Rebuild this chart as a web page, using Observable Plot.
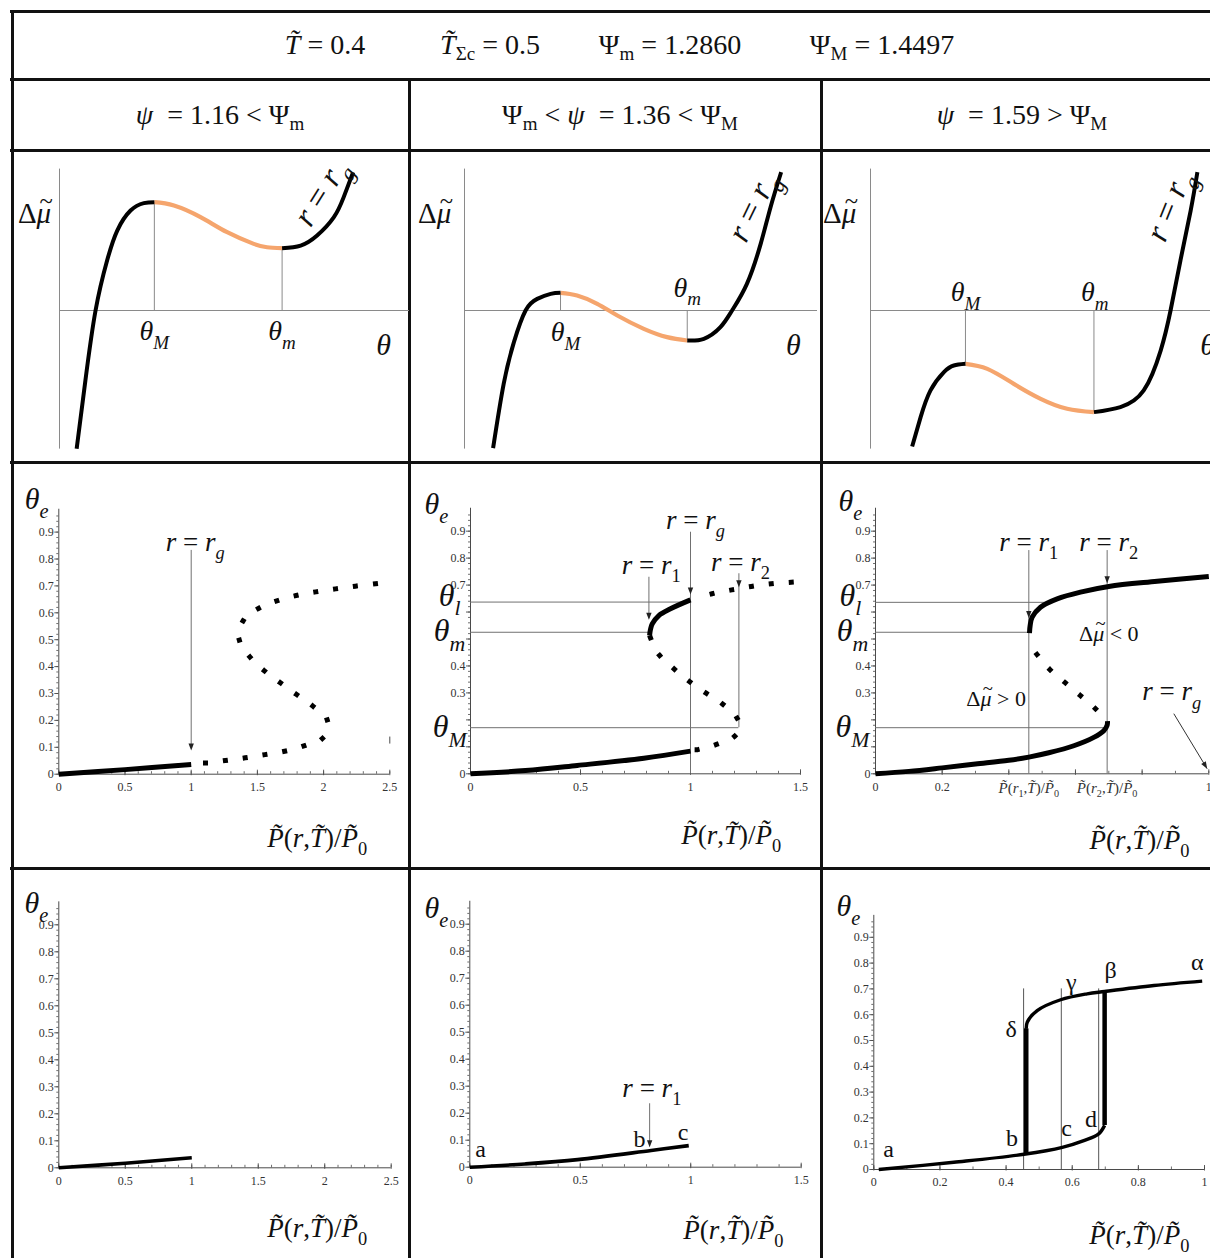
<!DOCTYPE html>
<html lang="en">
<head>
<meta charset="utf-8">
<title>Equilibrium coverage regimes</title>
<script src="https://cdn.jsdelivr.net/npm/d3@7"></script>
<script src="https://cdn.jsdelivr.net/npm/@observablehq/plot@0.6"></script>
<style>
  html, body { margin: 0; background: #fff; }
  #fig { position: relative; width: 1210px; height: 1258px; overflow: hidden; background: #fff;
         font-family: "Liberation Serif", "DejaVu Serif", serif; color: #111; }
  .rule { position: absolute; background: #111; }
  .hd { position: absolute; font-size: 28px; line-height: 28px; white-space: nowrap; transform: translateX(-50%); }
  .hd sub { font-size: 0.68em; vertical-align: -0.3em; line-height: 0; }
  #fig svg { position: absolute; overflow: visible; }
</style>
</head>
<body>
<div id="fig"></div>
<script>
// ---------------- parameters shown in the header ----------------
const Tred = 0.4, TsigmaC = 0.5, PsiMin = "1.2860", PsiMax = "1.4497";
const psiValues = ["1.16", "1.36", "1.59"];

// ---------------- row 1: Δμ̃(θ) sketches (θ in axis units 0–1, Δμ̃ scaled to ±1) ----------------
const mu116Rise = [[0.049,-0.988],[0.074,-0.5],[0.103,0],[0.136,0.357],[0.165,0.571],[0.203,0.714],[0.241,0.767],[0.271,0.774]];
const mu116Mid  = [[0.271,0.774],[0.327,0.75],[0.403,0.667],[0.479,0.559],[0.555,0.476],[0.593,0.452],[0.636,0.445]];
const mu116End  = [[0.636,0.445],[0.689,0.464],[0.736,0.536],[0.784,0.667],[0.812,0.81],[0.839,0.988]];

const mu136Rise = [[0.081,-0.983],[0.111,-0.524],[0.140,-0.226],[0.173,0],[0.206,0.083],[0.244,0.119],[0.272,0.126]];
const mu136Mid  = [[0.272,0.126],[0.319,0.107],[0.376,0.048],[0.433,-0.036],[0.508,-0.131],[0.574,-0.19],[0.631,-0.214]];
const mu136End  = [[0.631,-0.214],[0.678,-0.202],[0.725,-0.119],[0.758,0],[0.800,0.19],[0.839,0.476],[0.867,0.738],[0.897,0.988]];

const mu159Rise = [[0.118,-0.971],[0.142,-0.762],[0.170,-0.571],[0.208,-0.44],[0.236,-0.393],[0.269,-0.381]];
const mu159Mid  = [[0.269,-0.381],[0.331,-0.417],[0.406,-0.524],[0.482,-0.631],[0.557,-0.702],[0.633,-0.726]];
const mu159End  = [[0.633,-0.726],[0.708,-0.69],[0.774,-0.571],[0.822,-0.286],[0.850,0],[0.878,0.357],[0.907,0.714],[0.926,0.988]];

// ---------------- row 2: θe versus P̃/P̃0 ----------------
const iso116Solid = [[0,0],[0.5,0.017],[1,0.036]];
const iso116Dots  = [[1.108,0.042],[1.259,0.051],[1.41,0.061],[1.561,0.073],[1.712,0.086],[1.856,0.106],[1.997,0.136],
                     [2.027,0.202],[1.914,0.255],[1.788,0.299],[1.667,0.342],[1.544,0.388],[1.435,0.441],[1.36,0.507],
                     [1.4,0.576],[1.526,0.621],[1.669,0.648],[1.818,0.667],[1.969,0.68],[2.12,0.691],[2.271,0.701],[2.424,0.71]];

const iso136Lower      = [[0,0],[0.25,0.012],[0.485,0.031],[0.788,0.058],[1,0.084]];
const iso136LowerDots  = [[1.03,0.089],[1.118,0.109],[1.205,0.142],[1.222,0.172],[1.212,0.206],[1.144,0.26],[1.064,0.303],
                          [0.989,0.346],[0.92,0.393],[0.852,0.447],[0.814,0.513]];
const iso136Upper      = [[0.814,0.513],[0.818,0.535],[0.826,0.556],[0.856,0.587],[0.909,0.612],[1,0.645]];
const iso136UpperDots  = [[1.098,0.668],[1.186,0.682],[1.277,0.695],[1.371,0.705],[1.465,0.711]];
const iso136Marks = {thetaL: 0.637, thetaLow: 0.525, thetaHigh: 0.171, pR1: 0.814, pRg: 1, pR2: 1.22};

const iso159Lower = [[0,0],[0.1,0.009],[0.2,0.022],[0.3,0.036],[0.4,0.05],[0.46,0.062],[0.52,0.078],[0.595,0.104],
                     [0.655,0.135],[0.685,0.16],[0.695,0.18],[0.696,0.195]];
const iso159Dots  = [[0.66,0.241],[0.615,0.29],[0.57,0.337],[0.523,0.387],[0.483,0.445]];
const iso159Upper = [[0.462,0.522],[0.464,0.55],[0.47,0.581],[0.495,0.618],[0.545,0.649],[0.615,0.674],[0.70,0.695],
                     [0.845,0.714],[1.0,0.732]];
const iso159Marks = {thetaL: 0.636, thetaLCross: 0.515, thetaLow: 0.525, thetaHigh: 0.171, pR1: 0.46, pR2: 0.695};

// ---------------- row 3: path followed as the pressure is raised / lowered ----------------
const path116 = [[0,0],[0.5,0.017],[1,0.037]];
const path136 = [[0,0],[0.25,0.012],[0.488,0.028],[0.821,0.062],[0.991,0.08]];
const path159Lower = [[0.015,0],[0.242,0.028],[0.454,0.059],[0.57,0.086],[0.635,0.112],[0.68,0.138],[0.698,0.171]];
const path159Upper = [[0.461,0.545],[0.464,0.571],[0.494,0.616],[0.565,0.658],[0.645,0.681],[0.698,0.69],[0.847,0.713],[0.993,0.73]];
const path159Jumps = [{x: 0.461, from: 0.059, to: 0.545}, {x: 0.698, from: 0.171, to: 0.687}];
const path159Cuts  = [0.453, 0.567, 0.68];

// ---------------- axis ticks ----------------
const thetaTicks = [0, 0.1, 0.2, 0.3, 0.4, 0.5, 0.6, 0.7, 0.8, 0.9];
const thetaTicksShown = [0, 0.3, 0.4, 0.7, 0.8, 0.9];
const pTicks25 = [0, 0.5, 1, 1.5, 2, 2.5];
const pTicks15 = [0, 0.5, 1, 1.5];
const pTicks10 = [0, 0.2, 0.4, 0.6, 0.8, 1];

// ---------------- layout ----------------
const fig = document.getElementById("fig");
const SERIF = "'Liberation Serif', 'DejaVu Serif', serif";
const AX = "#4a4a4a", GUIDE = "#707070", ORANGE = "#f5a56d";
const COLS = [[14, 394], [411, 409], [823, 387]];
const ROWS = [[152, 309], [464, 403], [870, 388]];

// table frame
[[10, 10, 1200, 3], [11, 10, 3, 1248], [10, 78, 1200, 3], [10, 149, 1200, 3], [10, 461, 1200, 3], [10, 867, 1200, 3],
 [408, 78, 3, 1180], [820, 78, 3, 1180]].forEach(([l, t, w, h]) => {
  const d = document.createElement("div");
  d.className = "rule";
  Object.assign(d.style, {left: l + "px", top: t + "px", width: w + "px", height: h + "px"});
  fig.appendChild(d);
});

// header texts
const heads = [
  {cx: 325, cy: 45, html: `<i>T\u0303</i> = ${Tred}`},
  {cx: 490, cy: 45, html: `<i>T\u0303</i><sub>Σc</sub> = ${TsigmaC}`},
  {cx: 670, cy: 45, html: `Ψ<sub>m</sub> = ${PsiMin}`},
  {cx: 882, cy: 45, html: `Ψ<sub>M</sub> = ${PsiMax}`},
  {cx: 220, cy: 115, html: `<i>ψ</i>&nbsp; = ${psiValues[0]} &lt; Ψ<sub>m</sub>`},
  {cx: 620, cy: 115, html: `Ψ<sub>m</sub> &lt; <i>ψ</i>&nbsp; = ${psiValues[1]} &lt; Ψ<sub>M</sub>`},
  {cx: 1022, cy: 115, html: `<i>ψ</i>&nbsp; = ${psiValues[2]} &gt; Ψ<sub>M</sub>`}
];
heads.forEach(h => {
  const d = document.createElement("div");
  d.className = "hd";
  d.innerHTML = h.html;
  d.style.left = h.cx + "px";
  d.style.top = (h.cy - 14) + "px";
  fig.appendChild(d);
});

// ---------------- helpers ----------------
// "$" text: latin and lowercase greek letters in italic, _{..} subscript, ^{..} superscript, ~{..} tilde above
function parseRich(s) {
  const out = []; let buf = "", i = 0;
  while (i < s.length) {
    if ((s[i] === "_" || s[i] === "^" || s[i] === "~") && s[i + 1] === "{") {
      if (buf) { out.push({t: buf, lv: 0}); buf = ""; }
      const j = s.indexOf("}", i);
      out.push({t: s.slice(i + 2, j), lv: s[i] === "_" ? -1 : s[i] === "^" ? 1 : 0, tilde: s[i] === "~"});
      i = j + 1;
    } else buf += s[i++];
  }
  if (buf) out.push({t: buf, lv: 0});
  return out;
}
function styleRuns(s) {
  const out = [];
  for (const ch of s) {
    const comb = /[\u0300-\u036f]/.test(ch);
    const it = comb ? (out.length ? out[out.length - 1].it : false) : /[A-Za-zα-ω]/.test(ch);
    if (out.length && out[out.length - 1].it === it) out[out.length - 1].t += ch;
    else out.push({t: ch, it});
  }
  return out;
}
const SVGNS = "http://www.w3.org/2000/svg";
function richify(svg) {
  svg.querySelectorAll("text").forEach(t => {
    const s = t.textContent;
    if (!s.startsWith("$")) return;
    const fs = parseFloat(getComputedStyle(t).fontSize);
    t.textContent = "";
    let shift = 0, pendingDx = 0;
    const add = (txt, {it = false, size = null, target = shift} = {}) => {
      const ts = document.createElementNS(SVGNS, "tspan");
      ts.textContent = txt;
      ts.setAttribute("font-style", it ? "italic" : "normal");
      if (size) ts.setAttribute("font-size", size.toFixed(1));
      if (target !== shift) ts.setAttribute("dy", (target - shift).toFixed(2));
      if (pendingDx) ts.setAttribute("dx", pendingDx.toFixed(2));
      shift = target; pendingDx = 0;
      t.appendChild(ts);
      return ts;
    };
    for (const seg of parseRich(s.slice(1))) {
      const target = seg.lv === -1 ? 0.3 * fs : seg.lv === 1 ? -0.4 * fs : 0;
      const size = seg.lv ? 0.68 * fs : null;
      if (seg.tilde) {
        // base glyph, then a tilde pulled back over it; the next run steps forward again
        const base = add(seg.t, {it: /[A-Za-zα-ω]/.test(seg.t), target});
        const w = base.getComputedTextLength();
        const tl = add("~", {size: 0.85 * fs, target: target - 0.5 * fs});
        const wt = tl.getComputedTextLength();
        const slant = 0.08 * fs;
        tl.setAttribute("dx", (-(w + wt) / 2 + slant).toFixed(2));
        pendingDx = (w - wt) / 2 - slant;
        continue;
      }
      for (const run of styleRuns(seg.t)) add(run.t, {it: run.it, size, target});
    }
  });
}
// filled arrow head whose tip sits on the data point; angle turns it clockwise from "pointing down"
function head(angle = 0, len = 7, half = 2.7) {
  const a = angle * Math.PI / 180, c = Math.cos(a), s = Math.sin(a);
  const p = (x, y) => [x * c - y * s, x * s + y * c];
  return {draw(ctx) {
    const [x1, y1] = p(-half, -len), [x2, y2] = p(half, -len);
    ctx.moveTo(0, 0); ctx.lineTo(x1, y1); ctx.lineTo(x2, y2); ctx.closePath();
  }};
}
const X = d => d[0], Y = d => d[1];
const solid = (data, w = 4.6, stroke = "#000", curve = "catmull-rom") =>
  Plot.line(data, {x: X, y: Y, curve, stroke, strokeWidth: w, strokeLinecap: "butt"});
const dotted = (data) =>
  Plot.line(data, {x: X, y: Y, curve: "catmull-rom", stroke: "#000", strokeWidth: 5,
                   strokeLinecap: "square", strokeDasharray: "0.01,19.99"});
const label = (x, y, text, o = {}) =>
  Plot.text([{x, y, text}], {x: "x", y: "y", text: "text", fontSize: 27, fill: "#111", ...o});
const heads2 = (pts, angle = 0) =>
  Plot.dot(pts, {x: X, y: Y, symbol: head(angle), r: 3, fill: "#222", stroke: "none"});

function panel(c, r, {x, y, marks}) {
  const [left, width] = COLS[c], [top, height] = ROWS[r];
  const svg = Plot.plot({
    width, height, margin: 0,
    x: {domain: x.domain, range: x.range.map(v => v - left), axis: null},
    y: {domain: y.domain, range: y.range.map(v => v - top), axis: null},
    style: {fontFamily: SERIF, background: "none", overflow: "visible"},
    marks
  });
  svg.style.left = left + "px";
  svg.style.top = top + "px";
  fig.appendChild(svg);
  richify(svg);
}

// Maple-style axes for the θe panels
function mapleAxes(x, y, {xMax, xMajor, xLabels = xMajor, yLabels = thetaTicks, extraX = []}) {
  const ux = (x.domain[1] - x.domain[0]) / (x.range[1] - x.range[0]);
  const uy = (y.domain[1] - y.domain[0]) / (y.range[0] - y.range[1]);
  const fmt = d3.format("~g");
  const xMinor = d3.range(0, xMax + 1e-9, 0.1);
  const yMinor = d3.range(0, 0.98, 0.02);
  return [
    Plot.ruleY(yMinor, {x1: -2 * ux, x2: 0, stroke: AX, strokeWidth: 0.8}),
    Plot.ruleY(thetaTicks, {x1: -4 * ux, x2: 0, stroke: AX, strokeWidth: 0.9}),
    Plot.ruleX(xMinor, {y1: 0, y2: 2.5 * uy, stroke: AX, strokeWidth: 0.8}),
    Plot.ruleX(xMajor, {y1: -1.5 * uy, y2: 4 * uy, stroke: AX, strokeWidth: 0.9}),
    Plot.ruleX([0], {y1: 0, y2: 0.985, stroke: AX}),
    Plot.ruleY([0], {x1: 0, x2: xMax, stroke: AX}),
    Plot.text(yLabels, {x: 0, y: d => d, text: fmt, textAnchor: "end", dx: -5, fontSize: 12, fill: "#333"}),
    Plot.text(xLabels, {x: d => d, y: 0, text: fmt, dy: 13, fontSize: 12, fill: "#333"}),
    ...extraX
  ];
}
const pLabel = (x, y) => label(x, y, "$P\u0303(r,T\u0303)/P\u0303_{0}", {fontSize: 27});

// ---------------- row 1 ----------------
function muPanel(c, xr, rise, mid, end, lab) {
  const peak = rise[rise.length - 1], dip = mid[mid.length - 1];
  panel(c, 0, {
    x: {domain: [0, 1], range: xr},
    y: {domain: [-1, 1], range: [450, 170]},
    marks: [
      Plot.ruleY([0], {x1: 0, x2: 1, stroke: "#8a8a8a"}),
      Plot.ruleX([0], {y1: -0.99, y2: 1.01, stroke: "#8a8a8a"}),
      Plot.ruleX([peak, dip], {x: X, y1: 0, y2: Y, stroke: "#8a8a8a"}),
      solid(mid, 4.2, ORANGE, "natural"),
      solid(rise, 4, "#000", "natural"),
      solid(end, 4, "#000", "natural"),
      label(lab.dmu[0], lab.dmu[1], "$Δ~{μ}", {fontSize: 29}),
      label(lab.tM[0], lab.tM[1], "$θ_{M}", {fontSize: 28}),
      label(lab.tm[0], lab.tm[1], "$θ_{m}", {fontSize: 28}),
      label(lab.t[0], lab.t[1], "$θ", {fontSize: 30}),
      label(lab.rg[0], lab.rg[1], "$r = r_{g}", {fontSize: 33, rotate: lab.rg[2]})
    ]
  });
}
muPanel(0, [59, 409], mu116Rise, mu116Mid, mu116End,
  {dmu: [-0.069, 0.69], tM: [0.271, -0.15], tm: [0.636, -0.15], t: [0.926, -0.25], rg: [0.746, 0.843, -58]});
muPanel(1, [464, 817], mu136Rise, mu136Mid, mu136End,
  {dmu: [-0.082, 0.69], tM: [0.286, -0.157], tm: [0.631, 0.164], t: [0.932, -0.25], rg: [0.815, 0.74, -64]});
muPanel(2, [870, 1223], mu159Rise, mu159Mid, mu159End,
  {dmu: [-0.085, 0.69], tM: [0.269, 0.131], tm: [0.635, 0.131], t: [0.955, -0.25], rg: [0.845, 0.745, -68]});

// ---------------- row 2 ----------------
{
  const x = {domain: [0, 2.5], range: [58.3, 389.3]}, y = {domain: [0, 1], range: [773.7, 504.7]};
  panel(0, 1, {x, y, marks: [
    ...mapleAxes(x, y, {xMax: 2.5, xMajor: pTicks25}),
    Plot.ruleX([2.5], {y1: 0.112, y2: 0.138, stroke: AX}),
    Plot.ruleX([1], {y1: 0.095, y2: 0.832, stroke: GUIDE}),
    heads2([[1, 0.088]]),
    solid(iso116Solid, 5),
    dotted(iso116Dots),
    label(-0.168, 1.02, "$θ_{e}", {fontSize: 30}),
    label(1.03, 0.862, "$r = r_{g}"),
    pLabel(1.952, -0.239)
  ]});
}
{
  const m = iso136Marks;
  const x = {domain: [0, 1.5], range: [470, 800]}, y = {domain: [0, 1], range: [773.3, 503.7]};
  panel(1, 1, {x, y, marks: [
    ...mapleAxes(x, y, {xMax: 1.5, xMajor: pTicks15, yLabels: thetaTicksShown}),
    Plot.ruleY([{y: m.thetaL, x2: m.pRg}, {y: m.thetaLow, x2: m.pR1}, {y: m.thetaHigh, x2: m.pR2}],
               {y: "y", x1: 0, x2: "x2", stroke: GUIDE}),
    Plot.ruleX([{x: m.pRg, y1: 0, y2: 0.896}, {x: m.pR2, y1: m.thetaHigh, y2: 0.742}, {x: m.pR1 - 0.003, y1: 0.575, y2: 0.729}],
               {x: "x", y1: "y1", y2: "y2", stroke: GUIDE}),
    heads2([[m.pRg, 0.665], [m.pR2, 0.692], [m.pR1 - 0.003, 0.571]]),
    solid(iso136Lower, 5),
    solid(iso136Upper, 5),
    dotted(iso136LowerDots),
    dotted(iso136UpperDots),
    label(-0.155, 1.0, "$θ_{e}", {fontSize: 30}),
    label(-0.095, 0.661, "$θ_{l}", {fontSize: 32}),
    label(-0.095, 0.529, "$θ_{m}", {fontSize: 32}),
    label(-0.095, 0.173, "$θ_{M}", {fontSize: 32}),
    label(1.023, 0.941, "$r = r_{g}"),
    label(0.821, 0.774, "$r = r_{1}"),
    label(1.227, 0.786, "$r = r_{2}"),
    pLabel(1.185, -0.228)
  ]});
}
{
  const m = iso159Marks;
  const x = {domain: [0, 1], range: [875, 1208.3]}, y = {domain: [0, 1], range: [773.3, 503.7]};
  const pr = (k) => `$P\u0303(r_{${k}},T\u0303)/P\u0303_{0}`;
  panel(2, 1, {x, y, marks: [
    ...mapleAxes(x, y, {xMax: 1, xMajor: pTicks10, xLabels: [0, 0.2, 1], yLabels: thetaTicksShown, extraX: [
      Plot.text([{x: m.pR1, t: pr(1)}, {x: m.pR2, t: pr(2)}], {x: "x", y: 0, text: "t", dy: 14, fontSize: 15, fill: "#333"})
    ]}),
    Plot.ruleY([{y: m.thetaL, x2: m.thetaLCross}, {y: m.thetaLow, x2: m.pR1}, {y: m.thetaHigh, x2: m.pR2}],
               {y: "y", x1: 0, x2: "x2", stroke: GUIDE}),
    Plot.ruleX([m.pR1, m.pR2], {y1: 0, y2: 0.828, stroke: GUIDE}),
    heads2([[m.pR1, 0.578], [m.pR2, 0.707]]),
    Plot.link([{x1: 0.895, y1: 0.223, x2: 0.995, y2: 0.019}], {x1: "x1", y1: "y1", x2: "x2", y2: "y2", stroke: "#333"}),
    heads2([[0.995, 0.019]], -31),
    solid(iso159Lower, 5),
    solid(iso159Upper, 5),
    dotted(iso159Dots),
    label(-0.075, 1.011, "$θ_{e}", {fontSize: 30}),
    label(-0.075, 0.661, "$θ_{l}", {fontSize: 32}),
    label(-0.069, 0.529, "$θ_{m}", {fontSize: 32}),
    label(-0.069, 0.173, "$θ_{M}", {fontSize: 32}),
    label(0.46, 0.86, "$r = r_{1}"),
    label(0.70, 0.86, "$r = r_{2}"),
    label(0.70, 0.52, "$Δ~{μ} < 0", {fontSize: 22}),
    label(0.362, 0.279, "$Δ~{μ} > 0", {fontSize: 22}),
    label(0.80, 0.304, "$r = r_{g}", {textAnchor: "start"}),
    pLabel(0.792, -0.246)
  ]});
}

// ---------------- row 3 ----------------
{
  const x = {domain: [0, 2.5], range: [58.3, 390.7]}, y = {domain: [0, 1], range: [1167.3, 897.3]};
  panel(0, 2, {x, y, marks: [
    ...mapleAxes(x, y, {xMax: 2.5, xMajor: pTicks25}),
    solid(path116, 3.6),
    label(-0.168, 0.978, "$θ_{e}", {fontSize: 30}),
    pLabel(1.943, -0.225)
  ]});
}
{
  const x = {domain: [0, 1.5], range: [469.3, 800.7]}, y = {domain: [0, 1], range: [1166.7, 896.7]};
  panel(1, 2, {x, y, marks: [
    ...mapleAxes(x, y, {xMax: 1.5, xMajor: pTicks15}),
    Plot.ruleX([0.814], {y1: 0.08, y2: 0.235, stroke: GUIDE}),
    heads2([[0.814, 0.074]]),
    solid(path136, 3.6),
    label(-0.151, 0.957, "$θ_{e}", {fontSize: 30}),
    label(0.049, 0.068, "a", {fontSize: 24}),
    label(0.768, 0.105, "b", {fontSize: 24}),
    label(0.965, 0.13, "c", {fontSize: 24}),
    label(0.824, 0.291, "$r = r_{1}"),
    pLabel(1.193, -0.233)
  ]});
}
{
  const x = {domain: [0, 1], range: [873.3, 1204]}, y = {domain: [0, 1], range: [1169, 911]};
  panel(2, 2, {x, y, marks: [
    ...mapleAxes(x, y, {xMax: 1, xMajor: pTicks10}),
    Plot.ruleX(path159Cuts, {y1: 0, y2: 0.70, stroke: "#555", strokeWidth: 1}),
    Plot.ruleX(path159Jumps, {x: "x", y1: "from", y2: "to", stroke: "#000", strokeWidth: 4.5}),
    solid(path159Lower, 3.4),
    solid(path159Upper, 3.4),
    label(-0.077, 1.02, "$θ_{e}", {fontSize: 30}),
    label(0.045, 0.08, "a", {fontSize: 24}),
    label(0.418, 0.119, "b", {fontSize: 24}),
    label(0.583, 0.158, "c", {fontSize: 24}),
    label(0.657, 0.194, "d", {fontSize: 24}),
    label(0.415, 0.545, "δ", {fontSize: 24}),
    label(0.597, 0.724, "γ", {fontSize: 24}),
    label(0.716, 0.771, "β", {fontSize: 24}),
    label(0.978, 0.803, "α", {fontSize: 24}),
    pLabel(0.803, -0.255)
  ]});
}
</script>
</body>
</html>
